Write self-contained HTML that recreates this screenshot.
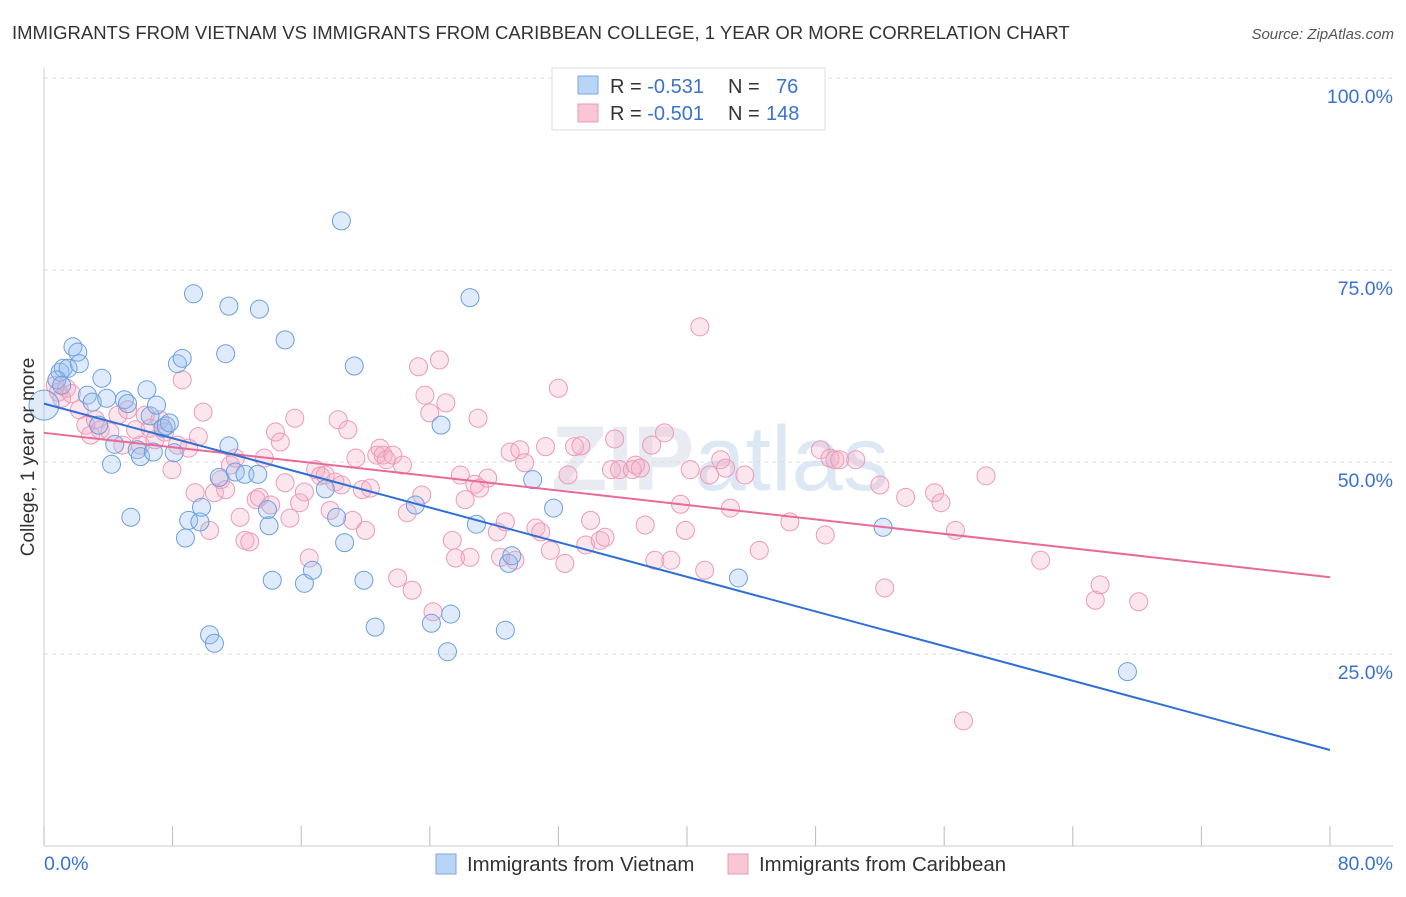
<!DOCTYPE html>
<html><head><meta charset="utf-8"><style>
body{margin:0;background:#fff;font-family:"Liberation Sans",sans-serif}
svg text{font-family:"Liberation Sans",sans-serif}
</style></head><body>
<svg id="chart" width="1406" height="892" xmlns="http://www.w3.org/2000/svg">
<text x="12" y="39" font-size="18.5" fill="#333">IMMIGRANTS FROM VIETNAM VS IMMIGRANTS FROM CARIBBEAN COLLEGE, 1 YEAR OR MORE CORRELATION CHART</text>
<text x="1394" y="39" font-size="15" fill="#555" font-style="italic" text-anchor="end">Source: ZipAtlas.com</text>
<text x="720" y="490" font-size="92" fill="#e8ecf2" text-anchor="middle" font-weight="bold">ZIP<tspan fill="#dde8f5" font-weight="normal">atlas</tspan></text>
<g id="grid"></g>
<g id="axes"></g>
<g id="pink"></g>
<g id="blue"></g>
<g id="trends"></g>
<text transform="translate(34,457) rotate(-90)" font-size="19" fill="#333" text-anchor="middle">College, 1 year or more</text>
<g>
<rect x="552" y="68" width="273" height="62" fill="#fff" stroke="#ddd"/>
<rect x="578" y="76" width="20" height="18" fill="#b8d4f6" stroke="#7aa8e4"/>
<rect x="578" y="104" width="20" height="18" fill="#f9c6d6" stroke="#ea9ab6"/>
<text x="610" y="93" font-size="20" fill="#333">R = <tspan fill="#3a72d0">-0.531</tspan><tspan x="728">N =</tspan><tspan x="776" fill="#3a72d0">76</tspan></text>
<text x="610" y="120" font-size="20" fill="#333">R = <tspan fill="#3a72d0">-0.501</tspan><tspan x="728">N =</tspan><tspan x="766" fill="#3a72d0">148</tspan></text>
</g>
<g>
<rect x="436" y="854" width="20" height="20" fill="#b8d4f6" stroke="#7aa8e4"/>
<text x="467" y="871" font-size="20.4" fill="#333">Immigrants from Vietnam</text>
<rect x="728" y="854" width="20" height="20" fill="#f9c6d6" stroke="#ea9ab6"/>
<text x="759" y="871" font-size="20.4" fill="#333">Immigrants from Caribbean</text>
</g>
</svg>
<script>
const yTicks=[25,50,75,100];
const yTickLabels=["25.0%","50.0%","75.0%","100.0%"];
const xTicks=[0,8,16,24,32,40,48,56,64,72,80];
const xEndLabels=["0.0%","80.0%"];
const blueX=[0.0,1.0,1.2,1.5,1.8,2.1,2.2,0.8,2.7,3.0,3.6,3.4,3.9,4.2,4.4,5.0,5.2,5.4,5.8,6.0,6.4,6.6,6.8,7.0,7.4,7.6,7.8,8.1,8.3,8.6,8.8,9.0,9.3,9.7,9.8,10.3,10.6,10.9,11.3,11.5,11.5,11.9,12.5,13.3,13.4,13.9,14.0,14.2,15.0,16.2,16.7,17.5,18.2,18.5,18.7,19.3,19.9,20.6,23.1,24.1,24.7,25.1,25.3,26.5,26.9,28.7,28.9,29.1,30.4,31.7,43.2,52.2,67.4,1.1];
const blueY=[57.4,61.7,62.2,62.2,65.0,64.3,62.8,60.7,58.7,57.8,60.9,54.8,58.3,49.7,52.3,58.1,57.6,42.8,51.6,50.7,59.4,56.0,51.3,57.4,54.4,54.7,55.1,51.2,62.8,63.5,40.1,42.4,71.9,42.2,44.1,27.5,26.4,48.0,64.1,70.3,52.1,48.7,48.4,48.4,69.9,43.8,41.7,34.6,65.9,34.2,35.9,46.5,42.8,81.4,39.5,62.5,34.6,28.5,44.4,29.0,54.8,25.3,30.2,71.4,41.9,28.1,36.8,37.8,47.7,44.0,34.9,41.5,22.7,60.0];
const pinkX=[0.7,0.9,1.1,1.4,1.7,2.2,2.6,2.9,3.2,3.5,4.1,4.6,4.9,5.2,5.7,6.0,6.3,6.6,6.9,7.2,7.5,7.96,8.3,8.6,9.0,9.4,9.6,9.9,10.3,10.6,11.0,11.3,11.6,11.9,12.2,12.5,12.8,13.2,13.4,13.7,14.1,14.4,14.7,15.0,15.3,15.6,15.9,16.2,16.5,16.9,17.2,17.5,17.8,18.1,18.3,18.5,18.9,19.2,19.4,19.8,20.0,20.3,20.7,20.9,21.1,21.3,21.7,22.0,22.3,22.6,22.9,23.3,23.5,23.7,24.0,24.2,24.6,25.0,25.4,25.6,25.9,26.2,26.5,26.8,27.0,27.1,27.6,28.2,28.4,28.7,29.0,29.3,29.6,29.9,30.6,30.9,31.2,31.5,32.0,32.4,32.6,33.0,33.4,33.7,34.0,34.6,34.9,35.3,35.5,35.8,36.6,36.8,37.1,37.4,37.8,38.0,38.6,39.0,39.6,39.9,40.2,40.8,41.1,41.4,42.1,42.4,42.7,43.6,44.5,46.4,48.3,48.6,48.9,49.2,49.5,50.5,52.0,52.3,53.6,55.4,55.8,56.7,57.2,58.6,62.0,65.4,65.7,68.1];
const pinkY=[60.0,59.1,58.3,59.6,58.9,56.8,54.8,53.5,55.5,54.2,53.9,56.1,52.2,56.8,54.2,52.2,56.1,54.4,52.9,55.5,53.9,49.0,52.2,60.7,51.8,46.0,53.3,56.5,41.1,46.0,47.7,46.4,49.6,50.5,42.8,39.8,39.6,45.1,45.4,50.5,44.4,53.9,52.6,47.3,42.7,55.7,44.7,46.1,37.5,49.0,48.2,48.3,43.7,47.4,55.5,47.0,54.2,42.4,50.5,46.4,41.1,46.6,50.9,51.8,50.9,50.3,50.9,34.9,49.6,43.4,33.3,62.4,45.7,58.7,56.4,30.5,63.3,57.7,39.8,37.5,48.3,45.1,37.6,47.1,55.7,46.6,47.9,40.9,37.6,42.2,51.3,37.2,51.6,49.9,41.4,40.9,52.0,38.5,59.6,36.8,48.3,52.0,52.1,39.2,42.4,39.8,40.2,49.0,53.0,49.0,49.0,49.6,49.2,41.8,52.2,37.2,53.8,37.2,44.5,41.1,49.0,67.6,35.9,48.3,50.3,49.2,44.0,48.3,38.5,42.2,51.6,40.5,50.5,50.3,50.3,50.3,47.0,33.6,45.4,46.0,44.7,41.1,16.3,48.2,37.2,32.0,34.0,31.8];
const blueTrend=[57.6,12.5];
const pinkTrend=[53.8,35.0];
const NS="http://www.w3.org/2000/svg";
const X0=44,X1=1330,Y0=846,Y100=78;
function xs(v){return X0+(X1-X0)*v/80;}
function ys(v){return Y0-(Y0-Y100)*v/100;}
function mk(tag,attrs,parent){const e=document.createElementNS(NS,tag);for(const k in attrs)e.setAttribute(k,attrs[k]);parent.appendChild(e);return e;}
const grid=document.getElementById('grid'),axes=document.getElementById('axes');
yTicks.forEach((t,i)=>{
 const l=mk('line',{x1:X0,x2:1393,y1:ys(t),y2:ys(t),stroke:'#dcdcdc','stroke-dasharray':'4,4'},grid);
 
 
 const tx=mk('text',{x:1393,y:ys(t)+25,'font-size':19.5,fill:'#3a72d0','text-anchor':'end'},axes);
 tx.textContent=yTickLabels[i];
 
 
});
const ax=mk('line',{x1:X0,x2:X0,y1:68,y2:846,stroke:'#ccc'},axes);


const bx=mk('line',{x1:X0,x2:1393,y1:846,y2:846,stroke:'#ccc'},axes);


xTicks.forEach(t=>{
 const l=mk('line',{x1:xs(t),x2:xs(t),y1:826,y2:846,stroke:'#bbb'},axes);
 
 
});
const xl0=mk('text',{x:X0,y:870,'font-size':19.5,fill:'#3a72d0'},axes);xl0.textContent=xEndLabels[0];


const xl1=mk('text',{x:1393,y:870,'font-size':19.5,fill:'#3a72d0','text-anchor':'end'},axes);xl1.textContent=xEndLabels[1];


const pg=document.getElementById('pink');
pinkX.forEach((x,i)=>{
 const c=mk('circle',{cx:xs(x),cy:ys(pinkY[i]),r:9,fill:'rgba(244,172,196,0.3)',stroke:'#ec9ab8','stroke-width':1},pg);
 
 
});
const bg=document.getElementById('blue');
blueX.forEach((x,i)=>{
 const c=mk('circle',{cx:xs(x),cy:ys(blueY[i]),r:i===0?15:9,fill:'rgba(150,190,240,0.3)',stroke:'#6c9fe0','stroke-width':1},bg);
 
 
});
const tg=document.getElementById('trends');
const pl=mk('line',{x1:xs(0),y1:ys(pinkTrend[0]),x2:xs(80),y2:ys(pinkTrend[1]),stroke:'#e86a98','stroke-width':2},tg);


const bl=mk('line',{x1:xs(0),y1:ys(blueTrend[0]),x2:xs(80),y2:ys(blueTrend[1]),stroke:'#2f6fd6','stroke-width':2},tg);


</script>
</body></html>
